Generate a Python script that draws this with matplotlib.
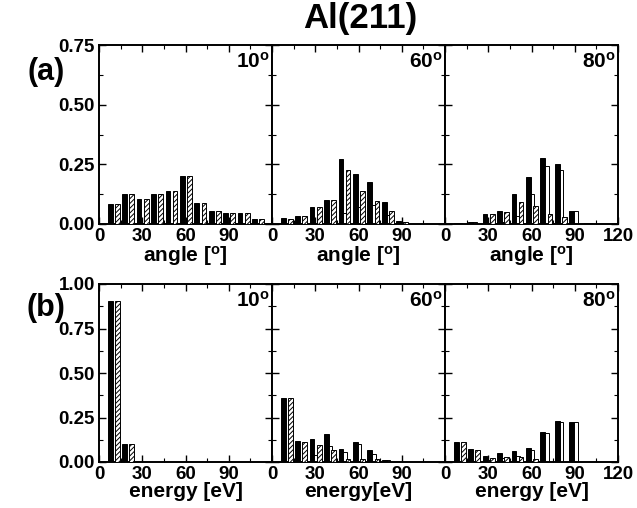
import numpy as np
import matplotlib
matplotlib.use("Agg")
import matplotlib.pyplot as plt
from matplotlib.ticker import MultipleLocator

plt.rcParams['font.family'] = ['Liberation Sans', 'DejaVu Sans']
plt.rcParams['font.weight'] = 'bold'
plt.rcParams['mathtext.fontset'] = 'custom'
plt.rcParams['mathtext.rm'] = 'Liberation Sans:bold'
plt.rcParams['mathtext.bf'] = 'Liberation Sans:bold'
plt.rcParams['mathtext.it'] = 'Liberation Sans:bold'
plt.rcParams['hatch.linewidth'] = 0.7

# bin positions (deg or eV)
biny = [10, 20, 30, 40, 50, 60, 70, 80, 90, 100, 110]

# (a) angular distributions
ang10_total = [0.084, 0.125, 0.105, 0.126, 0.138, 0.200, 0.086, 0.053, 0.044, 0.044, 0.022]
ang10_white = [0, 0, 0, 0, 0, 0, 0, 0, 0, 0, 0]
ang10_hatch = [0.084, 0.125, 0.105, 0.126, 0.138, 0.200, 0.086, 0.053, 0.044, 0.044, 0.022]

ang60_total = [0.025, 0.035, 0.071, 0.102, 0.271, 0.210, 0.176, 0.092, 0.014, 0, 0]
ang60_white = [0, 0, 0, 0, 0.046, 0.071, 0.081, 0.039, 0.007, 0, 0]
ang60_hatch = [0.022, 0.035, 0.071, 0.102, 0.225, 0.138, 0.098, 0.053, 0.007, 0, 0]

ang80_total = [0.005, 0.007, 0.043, 0.056, 0.126, 0.196, 0.276, 0.251, 0.056, 0.005, 0]
ang80_white = [0.005, 0.007, 0, 0.007, 0.035, 0.126, 0.241, 0.227, 0.056, 0.005, 0]
ang80_hatch = [0, 0, 0.043, 0.049, 0.094, 0.074, 0.042, 0.028, 0, 0, 0]

# (b) energy distributions
en10_total = [0.906, 0.103, 0, 0, 0, 0, 0, 0, 0, 0, 0]
en10_white = [0, 0, 0, 0, 0, 0, 0, 0, 0, 0, 0]
en10_hatch = [0.906, 0.103, 0, 0, 0, 0, 0, 0, 0, 0, 0]

en60_total = [0.362, 0.120, 0.131, 0.160, 0.075, 0.114, 0.066, 0.009, 0, 0, 0]
en60_white = [0, 0.006, 0.038, 0.090, 0.056, 0.103, 0.047, 0.009, 0, 0, 0]
en60_hatch = [0.362, 0.114, 0.094, 0.070, 0.019, 0.019, 0.015, 0, 0, 0, 0]

en80_total = [0.111, 0.075, 0.034, 0.053, 0.060, 0.081, 0.169, 0.231, 0.227, 0, 0]
en80_white = [0, 0.006, 0.012, 0.024, 0.035, 0.066, 0.163, 0.227, 0.227, 0, 0]
en80_hatch = [0.111, 0.069, 0.022, 0.028, 0.028, 0.015, 0, 0, 0, 0, 0]

katy = ["10", "60", "80"]

wiersze = [
    [(ang10_total, ang10_white, ang10_hatch),
     (ang60_total, ang60_white, ang60_hatch),
     (ang80_total, ang80_white, ang80_hatch)],
    [(en10_total, en10_white, en10_hatch),
     (en60_total, en60_white, en60_hatch),
     (en80_total, en80_white, en80_hatch)],
]
ymax = [0.75, 1.00]
xlabele = [["angle [$^{\\rm o}$]"] * 3, ["energy [eV]", "energy[eV]", "energy [eV]"]]

fig = plt.figure(figsize=(6.37, 5.08), dpi=100)

szer = 173 / 637
lewe = [99 / 637, 272 / 637, 445 / 637]
doly = [1 - 224 / 508, 1 - 462 / 508]
wys = [179 / 508, 178 / 508]

x = np.array(biny)
w = 3.3

for r in range(2):
    for c in range(3):
        ax = fig.add_axes([lewe[c], doly[r], szer, wys[r]])
        total, white, hatch = wiersze[r][c]
        ax.bar(x + 0.3, white, width=w, color="white", edgecolor="black", linewidth=0.7, zorder=2)
        ax.bar(x + 2.8, hatch, width=w, color="white", edgecolor="black", hatch="///////",
               linewidth=0.7, zorder=3)
        ax.bar(x - 2.2, total, width=w, color="black", edgecolor="black", linewidth=0.7, zorder=4)

        ax.set_xlim(0, 120)
        ax.set_ylim(0, ymax[r])
        ax.xaxis.set_major_locator(MultipleLocator(30))
        ax.xaxis.set_minor_locator(MultipleLocator(15))
        ax.yaxis.set_major_locator(MultipleLocator(0.25))
        ax.yaxis.set_minor_locator(MultipleLocator(0.125))
        ax.tick_params(which="both", direction="in", top=True, right=True, labelsize=13.5, pad=3)
        ax.tick_params(which="major", length=5, width=1.0)
        ax.tick_params(which="minor", length=3, width=0.8)
        for s in ax.spines.values():
            s.set_linewidth(1.4)

        if c < 2:
            ax.set_xticks([0, 30, 60, 90, 120])
            ax.set_xticklabels(["0", "30", "60", "90", ""])
        if c == 0:
            ax.yaxis.set_major_formatter(matplotlib.ticker.FormatStrFormatter("%.2f"))
        else:
            ax.set_yticklabels([])
        ax.set_xlabel(xlabele[r][c], fontsize=15, fontweight="bold", labelpad=-1)
        ax.text(0.99, 0.965, katy[c] + "$^{\\rm o}$", transform=ax.transAxes,
                ha="right", va="top", fontsize=15, fontweight="bold")

fig.text(0.565, 0.963, "Al(211)", ha="center", va="center", fontsize=25, fontweight="bold")
fig.text(0.072, 0.858, "(a)", ha="center", va="center", fontsize=22, fontweight="bold")
fig.text(0.072, 0.393, "(b)", ha="center", va="center", fontsize=22, fontweight="bold")

fig.savefig("out.png", dpi=100)
